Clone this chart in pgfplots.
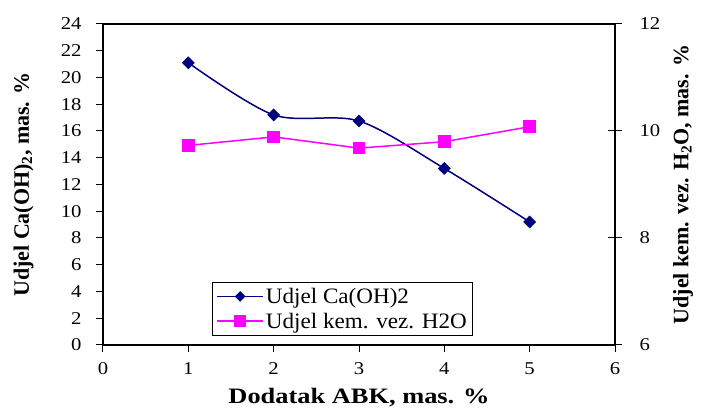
\documentclass[border=0pt]{standalone}
\usepackage{fontspec}
\setmainfont{Liberation Serif}
\usepackage{graphicx}
\usepackage{pgfplots}
\pgfplotsset{compat=1.18}
\newfontfamily\tickfont[FakeStretch=1.15]{Liberation Serif}
\newfontfamily\labfont[FakeStretch=1.2]{Liberation Serif}
\newfontfamily\legfont[FakeStretch=1.05]{Liberation Serif}
\definecolor{navy}{RGB}{0,0,128}
\definecolor{mag}{RGB}{255,0,255}

\pgfplotstableread{
x y
1 21.1
2 17.2
3 16.75
4 13.2
5 9.2
}\caoh

\pgfplotstableread{
x y
1 9.73
2 9.89
3 9.68
4 9.80
5 10.08
}\water

\begin{document}
\begin{tikzpicture}
\begin{axis}[
  scale only axis, width=512pt, height=321pt,
  xmin=0, xmax=6, ymin=0, ymax=24,
  clip=false,
  xtick={0,1,...,6}, ytick={0,2,...,24},
  xtick pos=bottom, ytick pos=left, tick align=outside,
  major tick length=7pt,
  axis line style={line width=1.3pt},
  tick style={line width=1pt, black},
  ticklabel style={font=\fontsize{18}{18}\tickfont},
  xticklabel style={yshift=-7pt},
  yticklabel style={xshift=-11pt},
  /pgf/number format/assume math mode=true,
  xlabel={Dodatak ABK, mas. \%},
  ylabel={Udjel Ca(OH)\textsubscript{2}, mas. \%},
  x label style={font=\fontsize{22}{22}\labfont\bfseries, at={(axis description cs:0.5,-0.165)}, anchor=center},
  y label style={font=\fontsize{22}{22}\bfseries, at={(axis description cs:-0.155,0.5)}, anchor=center},
]
\addplot[navy, line width=1.5pt, smooth, mark=square*, mark size=3.8pt, mark options={rotate=45, solid, fill=navy}] table[x=x,y=y] {\caoh};
\end{axis}
\begin{axis}[
  scale only axis, width=512pt, height=321pt,
  xmin=0, xmax=6, ymin=6, ymax=12,
  ytick={6,8,10,12},
  hide x axis,
  axis y line*=right,
  tick align=center,
  major tick length=14pt,
  axis line style={line width=1.3pt},
  tick style={line width=1pt, black},
  ticklabel style={font=\fontsize{18}{18}\tickfont},
  yticklabel style={xshift=14pt},
  /pgf/number format/assume math mode=true,
  ylabel={Udjel kem. vez. H\textsubscript{2}O, mas. \%},
  y label style={font=\fontsize{22}{22}\bfseries, at={(axis description cs:1.133,0.5)}, anchor=center},
  legend style={at={(axis description cs:0.213,0.028)}, anchor=south west, draw=black, line width=0.8pt, font=\fontsize{22}{22}\legfont, row sep=4pt, inner sep=4pt},
  legend cell align=left,
  legend image code/.code={\draw[mark repeat=2, mark phase=2] plot coordinates {(0pt,0pt) (23pt,0pt) (46pt,0pt)};},
]
\addlegendimage{navy, line width=1.5pt, mark=square*, mark size=3pt, mark options={rotate=45, solid, fill=navy}}
\addlegendentry{Udjel Ca(OH)2}
\addplot[mag, line width=1.5pt, mark=square*, mark size=5.5pt, mark options={solid, fill=mag}] table[x=x,y=y] {\water};
\addlegendentry{Udjel kem. vez. H2O}
\end{axis}
\draw[line width=1.6pt, black] (0pt,321pt) -- (512pt,321pt);
\pgfresetboundingbox
\path (-103pt,-74pt) rectangle (598pt,345pt);
\end{tikzpicture}
\end{document}
